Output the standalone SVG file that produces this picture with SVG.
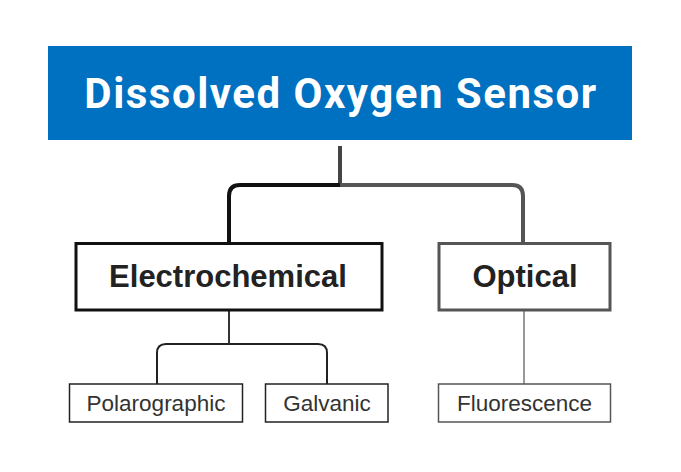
<svg xmlns="http://www.w3.org/2000/svg" width="681" height="472" viewBox="0 0 681 472">
<style>
.title{font-family:Roboto,"Liberation Sans",sans-serif;font-weight:bold;font-size:42px;letter-spacing:1.5px;fill:#fff;text-anchor:middle}
.mid{font-family:"Liberation Sans",Arial,sans-serif;font-weight:bold;font-size:31px;fill:#222;text-anchor:middle}
.leaf{font-family:"Liberation Sans",Arial,sans-serif;font-size:22.5px;fill:#333;text-anchor:middle}
.conn{fill:none}
</style>
<rect width="681" height="472" fill="#fff"/>
<g id="connectors" class="conn">
<path d="M340,146 V185" stroke="#444" stroke-width="4"/>
<path d="M340,185 H240 Q229,185 229,196 V243" stroke="#111" stroke-width="4"/>
<path d="M340,185 H512 Q523,185 523,196 V243" stroke="#555" stroke-width="4"/>
<path d="M229,310 V344" stroke="#333" stroke-width="2"/>
<path d="M229,344 H166 Q157,344 157,353 V384" stroke="#222" stroke-width="2"/>
<path d="M229,344 H318 Q327,344 327,353 V384" stroke="#222" stroke-width="2"/>
<path d="M524,310 V384" stroke="#777" stroke-width="1.5"/>
</g>
<g id="root">
<rect x="48" y="46" width="584" height="94" fill="#0070C0"/>
<text class="title" x="341" y="108">Dissolved Oxygen Sensor</text>
</g>
<g id="electrochemical">
<rect x="76" y="243.5" width="306" height="66.5" fill="#fff" stroke="#111" stroke-width="3"/>
<text class="mid" x="228" y="287">Electrochemical</text>
</g>
<g id="optical">
<rect x="439" y="243.5" width="171" height="66.5" fill="#fff" stroke="#555" stroke-width="3"/>
<text class="mid" x="525" y="287">Optical</text>
</g>
<g id="polarographic">
<rect x="69.5" y="384" width="173" height="38" fill="#fff" stroke="#222" stroke-width="1.5"/>
<text class="leaf" x="156" y="411">Polarographic</text>
</g>
<g id="galvanic">
<rect x="265.5" y="384" width="122.5" height="38" fill="#fff" stroke="#222" stroke-width="1.5"/>
<text class="leaf" x="327" y="411">Galvanic</text>
</g>
<g id="fluorescence">
<rect x="438.5" y="384" width="172" height="38" fill="#fff" stroke="#555" stroke-width="1.5"/>
<text class="leaf" x="524.5" y="411">Fluorescence</text>
</g>
</svg>
